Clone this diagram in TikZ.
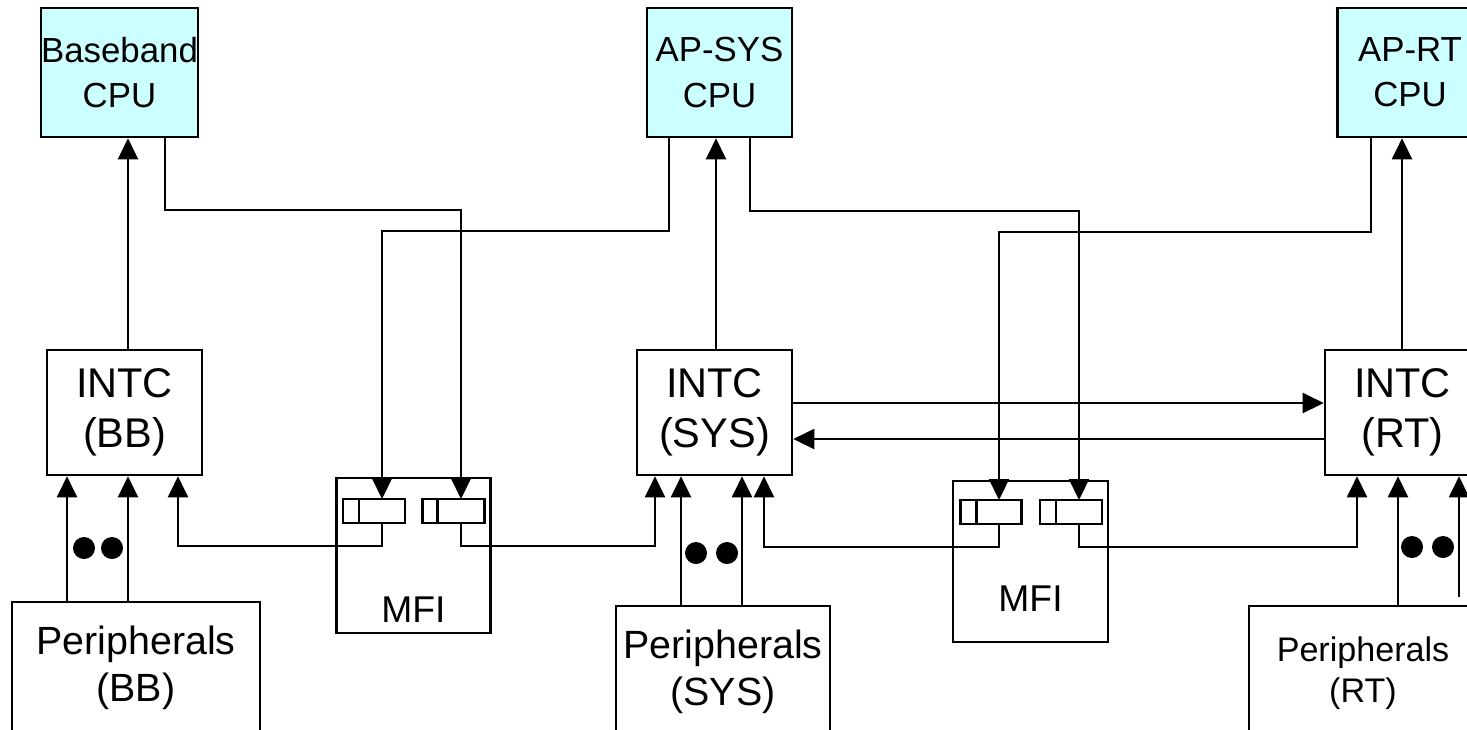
\documentclass[tikz,border=0pt]{standalone}
\usepackage{fontspec}
\setmainfont{Liberation Sans}
\usepackage{tikz}
\usetikzlibrary{arrows.meta}
\definecolor{cpufill}{HTML}{CCFFFF}

\begin{document}
\begin{tikzpicture}[
    x=0.01cm, y=-0.01cm,
    arr/.style={-{Triangle[length=0.21cm, width=0.2cm]}, line width=0.6pt},
    blk/.style={draw, line width=0.7pt, align=center, inner sep=0pt},
    cpu/.style={blk, fill=cpufill, minimum height=1.29cm,
      font=\fontsize{9.9}{12.8}\selectfont},
    intc/.style={blk, minimum width=1.55cm, minimum height=1.25cm,
      font=\fontsize{11.8}{14.2}\selectfont},
    per/.style={blk, minimum height=1.32cm,
      font=\fontsize{11.2}{13.4}\selectfont},
    mfi/.style={blk},
    cell/.style={draw, line width=0.7pt, minimum height=0.24cm,
      inner sep=0pt, outer sep=0pt},
    lbl/.style={font=\fontsize{10.6}{12}\selectfont}
  ]
  \useasboundingbox (0,0) rectangle (1467,729);

  % ══ CPUs ═══════════════════════════════════════════════════════════════
  \node[cpu, minimum width=1.55cm] (bbcpu)  at (119.5,72.5) {Baseband\\CPU};
  \node[cpu, minimum width=1.45cm] (syscpu) at (719.5,72.5) {AP-SYS\\CPU};
  \node[cpu, minimum width=1.45cm] (rtcpu)  at (1410,72.5)  {AP-RT\\CPU};

  % ══ interrupt controllers ══════════════════════════════════════════════
  \node[intc] (intcbb)  at (124.5,412.5)  {INTC\\(BB)};
  \node[intc] (intcsys) at (714.5,412.5)  {INTC\\(SYS)};
  \node[intc] (intcrt)  at (1402.5,412.5) {INTC\\(RT)};

  % ══ peripherals ════════════════════════════════════════════════════════
  \node[per, minimum width=2.48cm] (perbb)  at (136,668) {Peripherals\\(BB)};
  \node[per, minimum width=2.14cm] (persys) at (723,672) {Peripherals\\(SYS)};
  \node[per, minimum width=2.28cm, minimum height=1.34cm,
    font=\fontsize{9.7}{11.6}\selectfont] (perrt) at (1363,673)
    {Peripherals\\(RT)};

  % ══ MFI blocks ═════════════════════════════════════════════════════════
  \node[mfi, minimum width=1.54cm, minimum height=1.55cm] (mfiA)
    at (413.5,555.5) {};
  \node[lbl] (mfiAtxt) at ([yshift=0.25cm]mfiA.south) {MFI};
  \node[mfi, minimum width=1.55cm, minimum height=1.61cm] (mfiB)
    at (1030.5,561.5) {};
  \node[lbl] (mfiBtxt) at ([yshift=0.45cm]mfiB.south) {MFI};

  % message cells, each with a small tab on its left
  \node[cell, minimum width=0.46cm] (cellA1) at (382,511) {};
  \node[cell, minimum width=0.16cm, anchor=east] (tabA1) at (cellA1.west) {};
  \node[cell, minimum width=0.47cm] (cellA2) at (461,511) {};
  \node[cell, minimum width=0.15cm, anchor=east] (tabA2) at (cellA2.west) {};
  \node[cell, minimum width=0.45cm] (cellB1) at (999,512) {};
  \node[cell, minimum width=0.16cm, anchor=east] (tabB1) at (cellB1.west) {};
  \node[cell, minimum width=0.46cm] (cellB2) at (1079,512) {};
  \node[cell, minimum width=0.16cm, anchor=east] (tabB2) at (cellB2.west) {};

  % ══ CPU -> MFI ═════════════════════════════════════════════════════════
  \coordinate (bbtap) at (165,210);
  \draw[arr] (bbcpu.south -| bbtap) -- (bbtap) -| (cellA2.north);
  \coordinate (systapL) at (669,231);
  \draw[arr] (syscpu.south -| systapL) -- (systapL) -| (cellA1.north);
  \coordinate (systapR) at (750,211);
  \draw[arr] (syscpu.south -| systapR) -- (systapR) -| (cellB2.north);
  \coordinate (rttap) at (1371,232);
  \draw[arr] (rtcpu.south -| rttap) -- (rttap) -| (cellB1.north);

  % ══ INTC -> CPU ════════════════════════════════════════════════════════
  \draw[arr] (intcbb.north -| 128,0) -- (bbcpu.south -| 128,0);
  \draw[arr] (intcsys.north -| 716,0) -- (syscpu.south -| 716,0);
  \draw[arr] (intcrt.north -| 1402,0) -- (rtcpu.south -| 1402,0);

  % ══ MFI -> INTC ════════════════════════════════════════════════════════
  \coordinate (retA1) at (178,546);
  \draw[arr] (cellA1.south) |- (retA1) -- (intcbb.south -| retA1);
  \coordinate (retA2) at (655,546);
  \draw[arr] (cellA2.south) |- (retA2) -- (intcsys.south -| retA2);
  \coordinate (retB1) at (764,547);
  \draw[arr] (cellB1.south) |- (retB1) -- (intcsys.south -| retB1);
  \coordinate (retB2) at (1357,547);
  \draw[arr] (cellB2.south) |- (retB2) -- (intcrt.south -| retB2);

  % SYS <-> RT
  \draw[arr] (intcsys.east |- 0,403) -- (intcrt.west |- 0,403);
  \draw[arr] (intcrt.west |- 0,439) -- (intcsys.east |- 0,439);

  % ══ peripherals -> INTC ════════════════════════════════════════════════
  \foreach \px in {67,128}
    \draw[arr] (perbb.north -| \px,0) -- (intcbb.south -| \px,0);
  \foreach \px in {681,742}
    \draw[arr] (persys.north -| \px,0) -- (intcsys.south -| \px,0);
  \draw[arr] (perrt.north -| 1398,0) -- (intcrt.south -| 1398,0);
  \coordinate (rtedge) at (1459,597);
  \draw[arr] (rtedge) -- (intcrt.south -| rtedge);

  % dots
  \foreach \dx/\dy in {84/548, 112/548, 696/553, 727/553, 1412/547, 1443/547}
    \fill (\dx,\dy) circle (0.11cm);

\end{tikzpicture}
\end{document}
